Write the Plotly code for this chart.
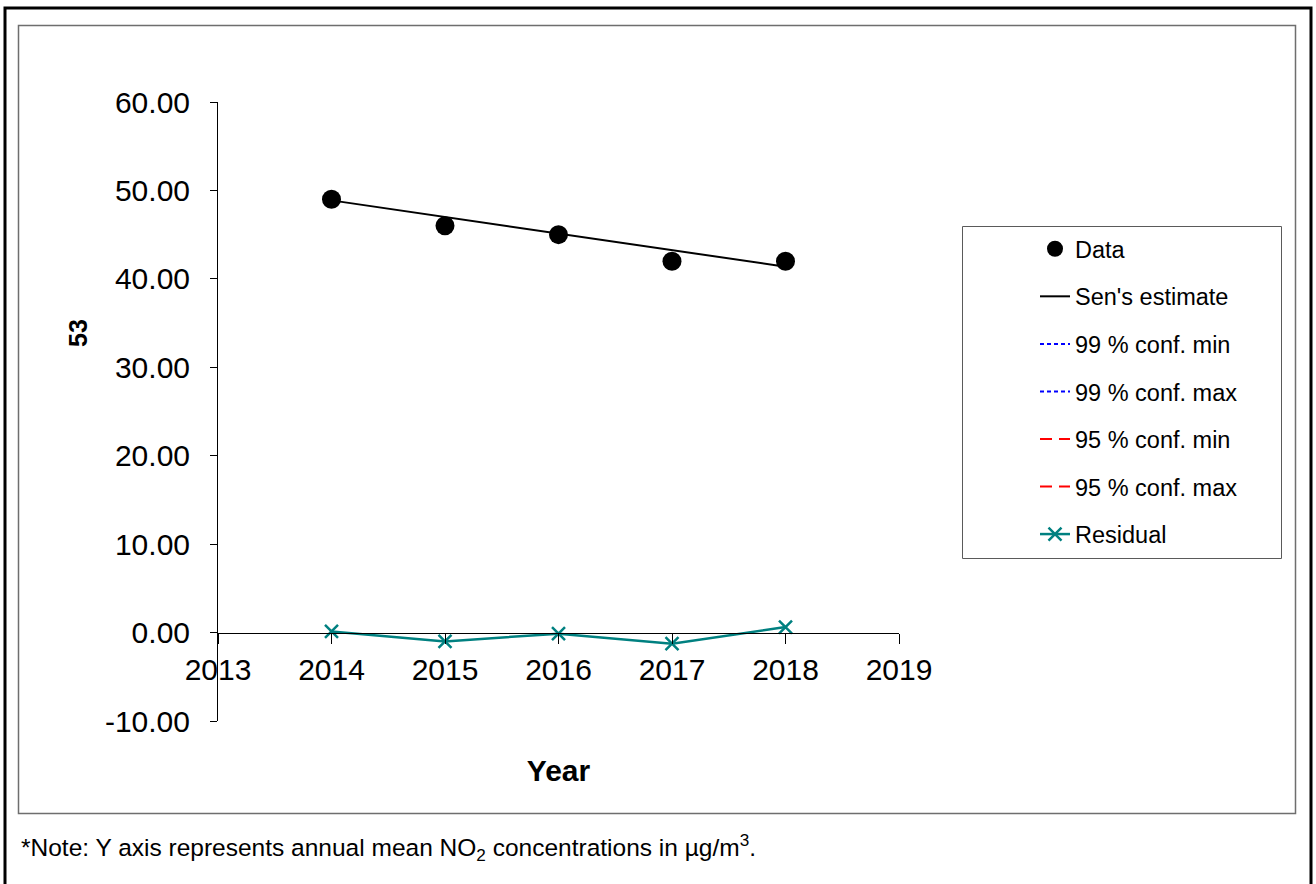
import plotly.graph_objects as go

# Annual series and Sen's slope fit
years = [2014, 2015, 2016, 2017, 2018]
data_values = [49.0, 46.0, 45.0, 42.0, 42.0]
sen_estimate = [48.875, 47.0, 45.125, 43.25, 41.375]
residuals = [0.125, -1.0, -0.125, -1.25, 0.625]
conf99_min = [None, None, None, None, None]
conf99_max = [None, None, None, None, None]
conf95_min = [None, None, None, None, None]
conf95_max = [None, None, None, None, None]

y_ticks = [-10, 0, 10, 20, 30, 40, 50, 60]
x_ticks = [2013, 2014, 2015, 2016, 2017, 2018, 2019]

FONT = "Arial, 'Liberation Sans', sans-serif"
W, H = 1316, 884
L, R, T, B = 218, 899, 102, 721  # plot area in pixels


def fx(px):
    return (px - L) / (R - L)


def fy(py):
    return (B - py) / (B - T)


fig = go.Figure()

fig.add_trace(go.Scatter(
    x=years, y=data_values, mode="markers", name="Data",
    marker=dict(symbol="circle", size=19, color="black"),
    legendgroup="a",
))
fig.add_trace(go.Scatter(
    x=years, y=sen_estimate, mode="lines", name="Sen's estimate",
    line=dict(color="black", width=2),
    legendgroup="b",
))
fig.add_trace(go.Scatter(
    x=years, y=conf99_min, mode="lines", name="99 % conf. min",
    line=dict(color="blue", width=2, dash="4px,3px"),
    legendgroup="c",
))
fig.add_trace(go.Scatter(
    x=years, y=conf99_max, mode="lines", name="99 % conf. max",
    line=dict(color="blue", width=2, dash="4px,3px"),
    legendgroup="d",
))
fig.add_trace(go.Scatter(
    x=years, y=conf95_min, mode="lines", name="95 % conf. min",
    line=dict(color="red", width=2, dash="12px,7px"),
    legendgroup="e",
))
fig.add_trace(go.Scatter(
    x=years, y=conf95_max, mode="lines", name="95 % conf. max",
    line=dict(color="red", width=2, dash="12px,7px"),
    legendgroup="f",
))
fig.add_trace(go.Scatter(
    x=years, y=residuals, mode="lines+markers", name="Residual",
    line=dict(color="rgb(0,128,128)", width=2.5),
    marker=dict(symbol="x-thin-open", size=13,
                line=dict(color="rgb(0,128,128)", width=2.5)),
    legendgroup="g",
))

y_min, y_max = -10, 60
fig.update_layout(
    width=W, height=H,
    margin=dict(l=L, r=W - R, t=T, b=H - B),
    paper_bgcolor="white", plot_bgcolor="white",
    font=dict(family=FONT, color="black"),
    showlegend=True,
    legend=dict(
        x=fx(1035), y=fy(227), xanchor="left", yanchor="top",
        font=dict(size=23.5, family=FONT, color="black"),
        bgcolor="rgba(0,0,0,0)", borderwidth=0,
        tracegroupgap=14, traceorder="grouped",
    ),
    xaxis=dict(
        range=[2013, 2019], tickvals=x_ticks,
        ticktext=[str(v) for v in x_ticks],
        showgrid=False, zeroline=False,
        showline=True, linecolor="black", linewidth=1,
        ticks="outside", ticklen=10, tickcolor="black", tickwidth=1,
        tickfont=dict(size=30, family=FONT, color="black"),
        anchor="free", position=(0 - y_min) / (y_max - y_min),
        title=dict(text="<b>Year</b>", font=dict(size=30, family=FONT),
                   standoff=75),
    ),
    yaxis=dict(
        range=[y_min, y_max], tickvals=y_ticks,
        ticktext=[f"{v:.2f}" for v in y_ticks],
        showgrid=False, zeroline=False,
        showline=True, linecolor="black", linewidth=1,
        ticks="outside", ticklen=7, tickcolor="black", tickwidth=1,
        tickfont=dict(size=30, family=FONT, color="black"),
        ticklabelstandoff=14,
    ),
    shapes=[
        # outer frame
        dict(type="rect", xref="paper", yref="paper",
             x0=fx(5), x1=fx(1311), y0=fy(892), y1=fy(8),
             line=dict(color="black", width=3), layer="below"),
        # chart frame
        dict(type="rect", xref="paper", yref="paper",
             x0=fx(18.5), x1=fx(1295.5), y0=fy(813.5), y1=fy(25.5),
             line=dict(color="rgb(110,110,110)", width=1.5), layer="below"),
        # legend frame
        dict(type="rect", xref="paper", yref="paper",
             x0=fx(962.5), x1=fx(1281.5), y0=fy(558.5), y1=fy(226.5),
             line=dict(color="rgb(90,90,90)", width=1), layer="below"),
    ],
    annotations=[
        dict(text="<b>53</b>", xref="paper", yref="paper",
             x=fx(78), y=fy(333), xanchor="center", yanchor="middle",
             textangle=-90, showarrow=False,
             font=dict(size=25, family=FONT, color="black")),
        dict(text="*Note: Y axis represents annual mean NO<sub>2</sub> "
                  "concentrations in µg/m<sup>3</sup>.",
             xref="paper", yref="paper",
             x=fx(19), y=fy(847), xanchor="left", yanchor="middle",
             showarrow=False,
             font=dict(size=24.5, family=FONT, color="black")),
    ],
)

fig.write_html("out.html")
